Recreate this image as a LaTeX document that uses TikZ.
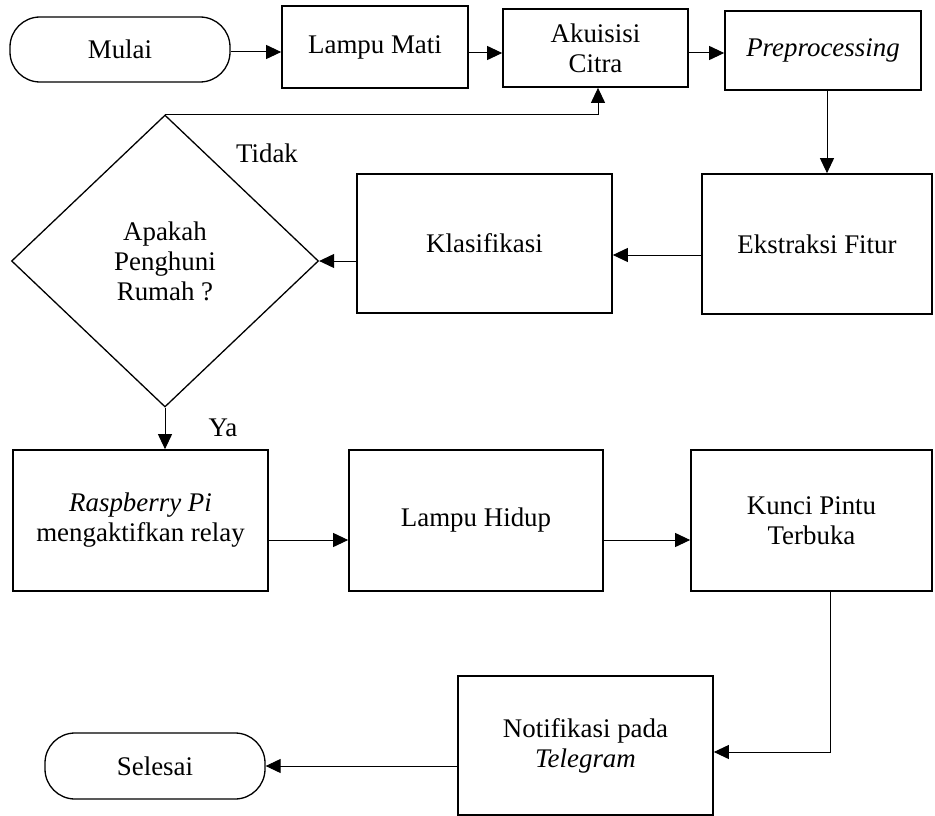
\documentclass[tikz,border=0pt]{standalone}
\usepackage{fontspec}
\setmainfont{Liberation Serif}
\usetikzlibrary{shapes.geometric,arrows.meta}
\begin{document}
\begin{tikzpicture}[x=1bp,y=-1bp,
  font=\fontsize{27}{30}\selectfont,
  box/.style={draw,line width=1.7bp,align=center,inner sep=0pt},
  term/.style={draw,line width=1.3bp,rounded corners=30bp,align=center,inner sep=0pt,minimum width=220bp,minimum height=65bp},
  decision/.style={draw,diamond,line width=1.3bp,align=center,inner sep=0pt,minimum width=307bp,minimum height=292bp},
  arr/.style={line width=1bp,-{Triangle[length=15bp,width=14bp]}},
  lbl/.style={inner sep=0pt}]
\useasboundingbox (0,0) rectangle (935,816);

\node[term] (mulai) at (120,49.5) {Mulai};
\node[box,minimum width=186bp,minimum height=82bp] (lmati) at (375,47) {Lampu Mati};
\node[box,minimum width=185bp,minimum height=78bp] (akui) at (595.5,48) {Akuisisi\\Citra};
\node[box,minimum width=196bp,minimum height=79bp] (prep) at (823,50.5) {\textit{Preprocessing}};
\node[box,minimum width=230bp,minimum height=140bp] (eks) at (817,244) {Ekstraksi Fitur};
\node[box,minimum width=255bp,minimum height=139bp] (kla) at (484.5,243.5) {Klasifikasi};
\node[decision] (dia) at (165,261) {Apakah\\Penghuni\\Rumah ?};
\node[box,minimum width=255bp,minimum height=141bp] (rasp) at (140.5,520.5) {\textit{Raspberry Pi}\\mengaktifkan relay};
\node[box,minimum width=254bp,minimum height=141bp] (lhidup) at (476,520.5) {Lampu Hidup};
\node[box,minimum width=241bp,minimum height=141bp] (kunci) at (811.5,520.5) {Kunci Pintu\\Terbuka};
\node[box,minimum width=255bp,minimum height=139bp] (notif) at (585.5,745.5) {Notifikasi pada\\\textit{Telegram}};
\node[term,minimum height=66bp] (selesai) at (155,766) {Selesai};

\node[lbl] (tidak) at (267,153) {Tidak};
\node[lbl] (ya) at (223,428) {Ya};

\coordinate (c1) at ([yshift=-2.5bp]mulai.east);
\coordinate (c2) at ([yshift=-6bp]lmati.east);
\coordinate (c3) at ([yshift=-5bp]akui.east);
\coordinate (c4) at ([xshift=4bp]prep.south);
\coordinate (c5) at ([yshift=-11bp]eks.west);
\coordinate (c6) at ([xshift=2.5bp]akui.south);
\coordinate (c7) at ([yshift=-19.5bp]rasp.east);
\coordinate (c8) at ([yshift=-19.5bp]lhidup.east);
\coordinate (c9) at ([xshift=18.5bp]kunci.south);
\coordinate (c10) at ([yshift=-6.5bp]notif.east);

\draw[arr] (c1) -- (c1 -| lmati.west);
\draw[arr] (c2) -- (c2 -| akui.west);
\draw[arr] (c3) -- (c3 -| prep.west);
\draw[arr] (c4) -- (c4 |- eks.north);
\draw[arr] (c5) -- (c5 -| kla.east);
\draw[arr] (dia.east -| kla.west) -- (dia.east);
\draw[arr] (dia.north) -- (dia.north -| c6) -- (c6);
\draw[arr] (dia.south) -- (dia.south |- rasp.north);
\draw[arr] (c7) -- (c7 -| lhidup.west);
\draw[arr] (c8) -- (c8 -| kunci.west);
\draw[arr] (c9) -- (c9 |- c10) -- (c10);
\draw[arr] (selesai.east -| notif.west) -- (selesai.east);
\end{tikzpicture}
\end{document}
